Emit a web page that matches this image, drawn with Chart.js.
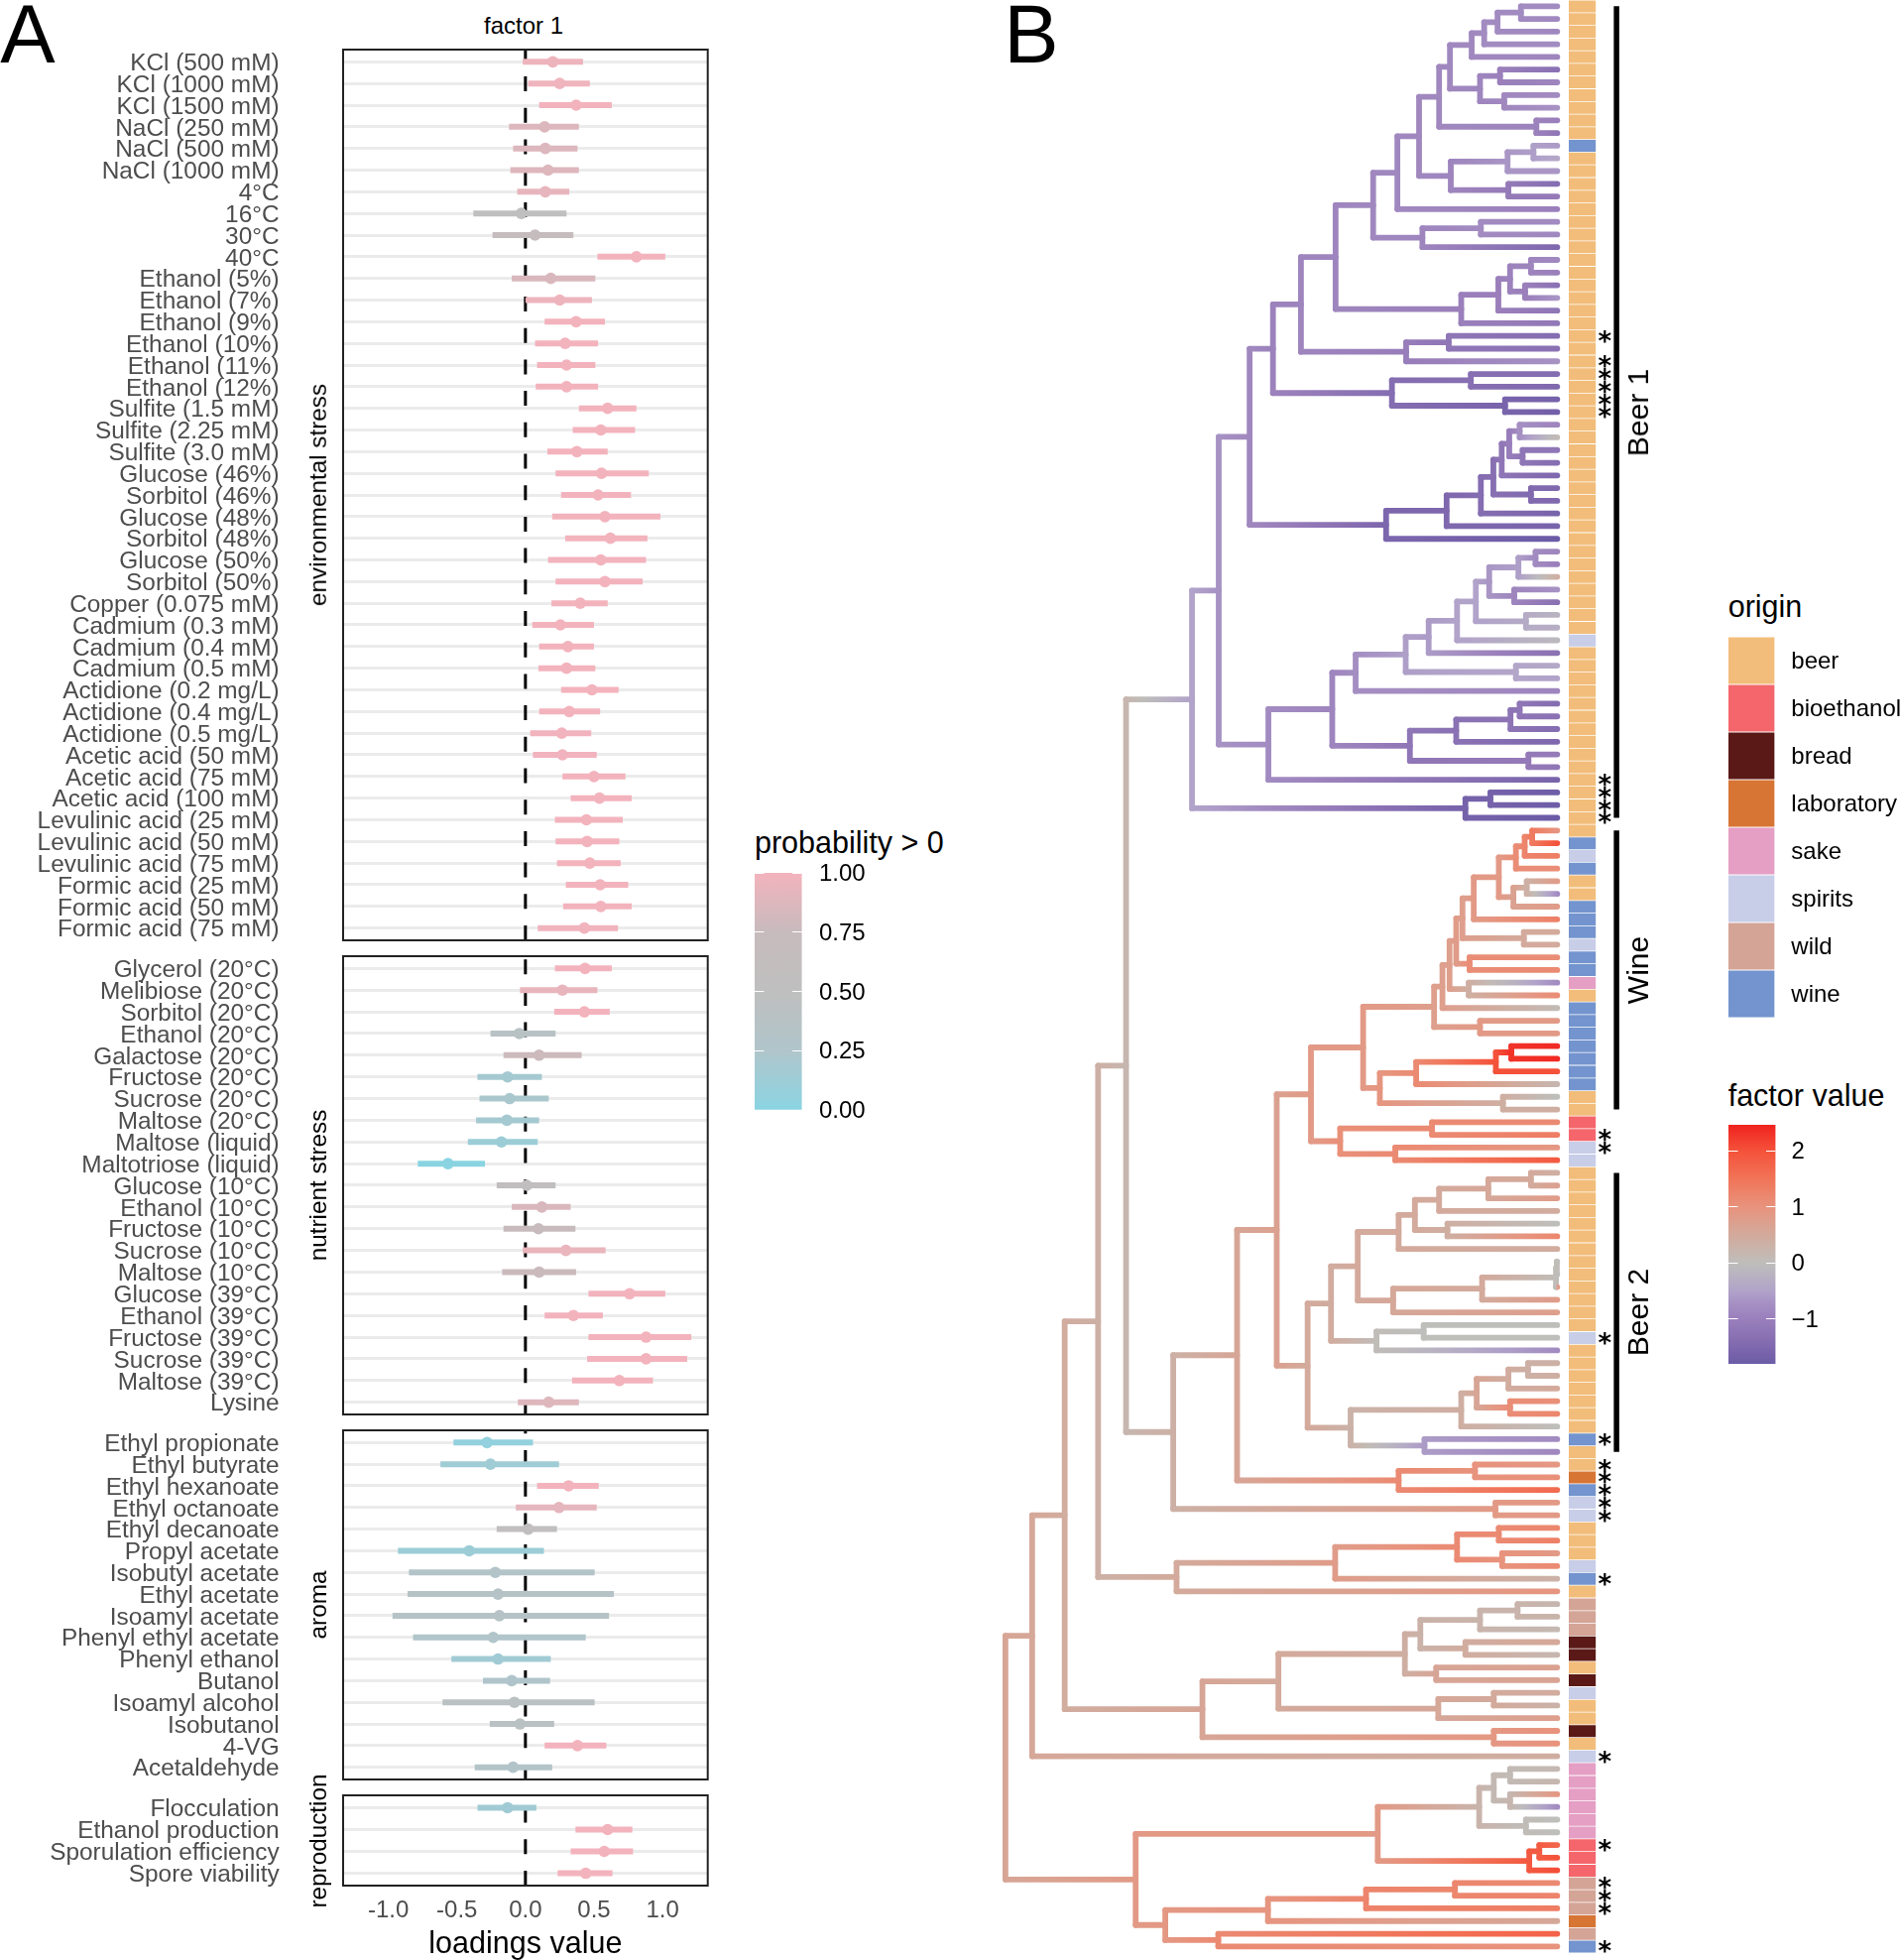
<!DOCTYPE html>
<html>
<head>
<meta charset="utf-8">
<title>factor 1 loadings and tree</title>
<script src="https://cdn.jsdelivr.net/npm/chart.js@4/dist/chart.umd.js"></script>
<style>
    body { margin: 0; background: #fff; }
    #page { position: relative; width: 1917px; height: 1976px; overflow: hidden; font-family: "Liberation Sans", Arial, sans-serif; }
    canvas { position: absolute; }
    .label { position: absolute; white-space: nowrap; color: #000; line-height: 1; }
</style>
</head>
<body>
<div id="page"></div>
<script>
// panel A, one block per facet: label, low, middle, high, probability > 0
const stressLabels = ["KCl (500 mM)", "KCl (1000 mM)", "KCl (1500 mM)", "NaCl (250 mM)", "NaCl (500 mM)", "NaCl (1000 mM)", "4°C", "16°C", "30°C", "40°C", "Ethanol (5%)", "Ethanol (7%)", "Ethanol (9%)", "Ethanol (10%)", "Ethanol (11%)", "Ethanol (12%)", "Sulfite (1.5 mM)", "Sulfite (2.25 mM)", "Sulfite (3.0 mM)", "Glucose (46%)", "Sorbitol (46%)", "Glucose (48%)", "Sorbitol (48%)", "Glucose (50%)", "Sorbitol (50%)", "Copper (0.075 mM)", "Cadmium (0.3 mM)", "Cadmium (0.4 mM)", "Cadmium (0.5 mM)", "Actidione (0.2 mg/L)", "Actidione (0.4 mg/L)", "Actidione (0.5 mg/L)", "Acetic acid (50 mM)", "Acetic acid (75 mM)", "Acetic acid (100 mM)", "Levulinic acid (25 mM)", "Levulinic acid (50 mM)", "Levulinic acid (75 mM)", "Formic acid (25 mM)", "Formic acid (50 mM)", "Formic acid (75 mM)"];
const stressLow = [-0.02, 0.02, 0.10, -0.12, -0.09, -0.11, -0.06, -0.38, -0.24, 0.525, -0.10, 0.0, 0.14, 0.07, 0.085, 0.075, 0.39, 0.345, 0.16, 0.22, 0.26, 0.195, 0.29, 0.165, 0.22, 0.19, 0.05, 0.10, 0.095, 0.26, 0.10, 0.035, 0.055, 0.27, 0.33, 0.215, 0.22, 0.23, 0.295, 0.275, 0.09];
const stressMid = [0.20, 0.25, 0.37, 0.14, 0.145, 0.165, 0.145, -0.03, 0.07, 0.81, 0.185, 0.25, 0.37, 0.29, 0.30, 0.30, 0.60, 0.55, 0.375, 0.555, 0.53, 0.58, 0.62, 0.55, 0.58, 0.40, 0.255, 0.31, 0.30, 0.485, 0.32, 0.265, 0.27, 0.50, 0.54, 0.445, 0.45, 0.47, 0.545, 0.55, 0.43];
const stressHigh = [0.42, 0.47, 0.63, 0.39, 0.38, 0.39, 0.32, 0.30, 0.35, 1.02, 0.51, 0.485, 0.58, 0.53, 0.51, 0.53, 0.81, 0.80, 0.60, 0.90, 0.77, 0.985, 0.89, 0.88, 0.855, 0.60, 0.50, 0.50, 0.51, 0.68, 0.545, 0.48, 0.52, 0.73, 0.775, 0.71, 0.685, 0.695, 0.75, 0.775, 0.675];
const stressProb = [0.97, 0.98, 1, 0.87, 0.87, 0.88, 0.93, 0.5, 0.68, 1, 0.85, 0.97, 1, 1, 1, 1, 1, 1, 1, 1, 1, 1, 1, 1, 1, 1, 1, 1, 1, 1, 1, 0.99, 0.99, 1, 1, 1, 1, 1, 1, 1, 0.99];

const nutrientLabels = ["Glycerol (20°C)", "Melibiose (20°C)", "Sorbitol (20°C)", "Ethanol (20°C)", "Galactose (20°C)", "Fructose (20°C)", "Sucrose (20°C)", "Maltose (20°C)", "Maltose (liquid)", "Maltotriose (liquid)", "Glucose (10°C)", "Ethanol (10°C)", "Fructose (10°C)", "Sucrose (10°C)", "Maltose (10°C)", "Glucose (39°C)", "Ethanol (39°C)", "Fructose (39°C)", "Sucrose (39°C)", "Maltose (39°C)", "Lysine"];
const nutrientLow = [0.215, -0.04, 0.21, -0.255, -0.16, -0.35, -0.335, -0.36, -0.42, -0.785, -0.21, -0.10, -0.16, -0.02, -0.17, 0.46, 0.14, 0.46, 0.45, 0.34, -0.055];
const nutrientMid = [0.435, 0.27, 0.43, -0.045, 0.10, -0.13, -0.115, -0.135, -0.175, -0.565, 0.01, 0.12, 0.095, 0.295, 0.10, 0.76, 0.35, 0.88, 0.88, 0.685, 0.17];
const nutrientHigh = [0.63, 0.525, 0.615, 0.22, 0.41, 0.12, 0.17, 0.10, 0.09, -0.295, 0.22, 0.33, 0.365, 0.585, 0.37, 1.02, 0.565, 1.21, 1.18, 0.93, 0.39];
const nutrientProb = [1, 0.94, 1, 0.38, 0.78, 0.18, 0.22, 0.18, 0.12, 0, 0.55, 0.85, 0.75, 0.95, 0.77, 1, 1, 1, 1, 1, 0.88];

const aromaLabels = ["Ethyl propionate", "Ethyl butyrate", "Ethyl hexanoate", "Ethyl octanoate", "Ethyl decanoate", "Propyl acetate", "Isobutyl acetate", "Ethyl acetate", "Isoamyl acetate", "Phenyl ethyl acetate", "Phenyl ethanol", "Butanol", "Isoamyl alcohol", "Isobutanol", "4-VG", "Acetaldehyde"];
const aromaLow = [-0.525, -0.62, 0.085, -0.07, -0.21, -0.93, -0.85, -0.86, -0.97, -0.82, -0.54, -0.31, -0.605, -0.26, 0.14, -0.37];
const aromaMid = [-0.28, -0.255, 0.315, 0.245, 0.02, -0.41, -0.22, -0.20, -0.19, -0.235, -0.20, -0.10, -0.08, -0.04, 0.38, -0.09];
const aromaHigh = [0.055, 0.245, 0.535, 0.52, 0.23, 0.135, 0.505, 0.645, 0.61, 0.44, 0.185, 0.18, 0.505, 0.21, 0.59, 0.195];
const aromaProb = [0.05, 0.14, 1, 0.92, 0.55, 0.12, 0.3, 0.33, 0.35, 0.27, 0.15, 0.25, 0.42, 0.42, 1, 0.3];

const reproLabels = ["Flocculation", "Ethanol production", "Sporulation efficiency", "Spore viability"];
const reproLow = [-0.35, 0.365, 0.33, 0.235];
const reproMid = [-0.13, 0.60, 0.575, 0.44];
const reproHigh = [0.08, 0.78, 0.785, 0.635];
const reproProb = [0.15, 1, 1, 1];

const loadingTicks = [-1, -0.5, 0, 0.5, 1];

// colour ramps of the two legends
const probBreaks = [0, 0.25, 0.5, 0.75, 1];
const probColors = ['#8AD4E2', '#B0C5CB', '#BFBFBF', '#C7BBBD', '#F3B3BD'];
const factorBreaks = [-1.8, -1.5, -1, -0.75, -0.5, 0, 0.5, 1, 1.5, 2, 2.46];
const factorColors = ['#6B5BA6', '#7F68AE', '#9A7FBB', '#A48EC2', '#B1A3CA', '#BEBEBB', '#D3AA9C', '#E8937D', '#F17458', '#F4523A', '#F0231F'];
const factorTicks = [-1, 0, 1, 2];

const originNames = ["beer", "bioethanol", "bread", "laboratory", "sake", "spirits", "wild", "wine"];
const originColors = ['#F2BD7A', '#F4666B', '#5A1916', '#D77535', '#E59EC4', '#C8CDE8', '#D4A496', '#7394CE'];

// panel B, one letter per tip, top to bottom
const originCodes = { b: 0, e: 1, d: 2, l: 3, s: 4, p: 5, w: 6, v: 7 };
const tipOrigins = ("bbbbbbbbbb" + "bvbbbbbbbb" + "bbbbbbbbbb" + "bbbbbbbbbb" + "bbbbbbbbbb" + "pbbbbbbbbb" + "bbbbbbvpvb" + "bvvvpvvsbv" + "vvvvvvbbee" + "ppbbbbbbbb" + "bbbbbpbbbb" + "bbbvbblvpp" + "bbbpvbwwwd" + "dbdpbbdbps" + "ssssseeeww" + "wlwv").split('');
const starTips = [26, 28, 29, 30, 31, 32, 61, 62, 63, 64, 89, 90, 105, 113, 115, 116, 117, 118, 119, 124, 138, 145, 148, 149, 150, 153];
const tipValues = [
    -0.8, -0.85, -0.85, -0.8, -0.9, -1.3, -0.9, -0.8, -0.7, -1.0, -1.2, -0.6, -0.4, -0.65, -1.4, -1.1, -1.0, -0.8, -0.85, -1.5,
    -0.85, -1.0, -1.3, -0.65, -1.2, -1.15, -1.4, -1.3, -0.7, -1.4, -1.5, -1.65, -1.7, -0.9, 0.1, -1.2, -1.4, -1.5, -1.5, -1.5,
    -1.6, -1.6, -1.8, -0.9, -1.0, 0.4, -0.7, -1.3, -0.2, -0.3, -0.1, -1.3, -0.4, -0.5, -0.9, -1.4, -1.3, -1.4, -1.5, -1.1,
    -1.2, -1.6, -1.75, -1.75, -1.8, 0.95, 2.0, 1.35, 1.1, 0.8, -0.8, 0.8, 1.3, 0.5, 0.5, 1.1, 1.15, -0.8, 1.1, 0.1,
    0.85, 0.85, 2.4, 2.4, 2.0, 0.2, 0, 0.4, 1.15, 1.35, 0.9, 1.9, 0.4, 0.7, 0.8, 0.45, 0, 1.2, 0.45, 0,
    0, 0.8, 0.8, 0.75, 0, 0, -0.8, 0.35, 0.4, 0.5, 1.05, 1.2, 0, -0.8, -0.85, 0.9, 1.05, 1.65, 0.85, 0.85,
    1.2, 1.3, 0.85, 1.15, 0.3, 0.95, 0.2, 0.25, 0.15, 0.55, 0.2, 0.7, 0.65, 0.45, 0.3, 0.75, 1, 1, 0.4, 0.15,
    0.2, 0.9, -0.8, 0, 0, 1.7, 2, 2.05, 1.15, 1.25, 1.35, 0.55, 1.75, 1
];
const tipDepth = 1355;

// tree nodes: [depth, factor value, child, child], a bare number is a tip index
const cladeTop = [824, -0.9,
    [914, -0.85,
        [972, -0.85,
            [1024, -0.85,
                [1072, -0.85,
                    [1098, -0.85,
                        [1150, -0.85, [1180, -0.8, [1212, -0.8, [1268, -0.8, 0, 1], 2], 3], 4],
                        [1170, -0.9, [1218, -1.0, 5, 6], [1228, -0.85, 7, 8]]],
                    [1305, -0.95, 9, 10]],
                [1100, -0.9, [1236, -0.65, [1298, -0.55, 11, 12], 13], [1238, -1.1, 14, 15]]],
            16],
        [1032, -0.9, [1172, -0.8, 17, 18], 19]],
    [1125, -1, [1214, -1, [1242, -0.95, [1292, -0.9, 20, 21], [1278, -1, 22, 23]], 24], 25]];
const cladeUpper = [674, -0.95,
    [741, -0.9, cladeTop, [993, -1.05, [1095, -1.2, 26, 27], 28]],
    [959, -1.4, [1148, -1.35, 29, 30], [1230, -1.6, 31, 32]]];
const cladeDark = [945, -1.55, [1090, -1.5, [1172, -1.4, [1202, -1.35, [1222, -1.2, [1240, -1.05, [1265, -0.75, 33, 34], [1272, -1.2, 35, 36]], 37], [1292, -1.45, 38, 39]], 40], 41], 42];
const cladeLight = [663, -0.8,
    [816, -0.9,
        [872, -0.75, [992, -0.55, [1047, -0.6, [1115, -0.5, [1160, -0.5, [1192, -0.65, [1262, -0.55, [1303, -0.8, 43, 44], 45], [1252, -0.9, 46, 47]], [1280, -0.35, 48, 49]], 50], 51], [1256, -0.45, 52, 53]], 54],
        [1002, -1.2, [1113, -1.3, [1243, -1.25, [1265, -1.2, 55, 56], 57], 58], [1286, -1.1, 59, 60]]],
    61];
const cladeBeer1 = [480, -0.5, [544, -0.7, [618, -0.85, cladeUpper, cladeDark], cladeLight], [1135, -1.65, [1195, -1.65, 62, 63], 64]];
const cladeWine = [765, 0.85,
    [890, 0.85,
        [1060, 0.75, [1080, 0.75, [1097, 0.75, [1113, 0.8, [1128, 0.75, [1155, 0.85, [1215, 0.85, [1256, 1.1, [1277, 1.25, [1295, 1.4, 65, 66], 67], 68], [1250, 0.7, [1282, 0.35, 69, 70], 71]], 72], [1275, 0.5, 73, 74]], [1145, 1.1, 75, 76]], [1143, 0.4, 77, 78]], 79], [1170, 0.85, 80, 81]],
        [930, 0.95, [1017, 1.15, [1208, 2.0, [1245, 2.3, 82, 83], 84], 85], [1225, 0.4, 86, 87]]],
    [835, 1.05, [1055, 1.15, 88, 89], [967, 1.15, 90, 91]]];
const cladeBeer2 = [757, 0.5,
    [813, 0.45,
        [877, 0.5,
            [975, 0.5, [1014, 0.5, [1072, 0.5, [1190, 0.55, [1292, 0.5, 92, 93], 94], 95], [1092, 0.4, 96, 97]], 98],
            [962, 0.55, [1175, 0.5, [1352, 0.05, [1354, 0.05, 99, 100], 101], 102], 103]],
        [922, 0.05, [1035, 0, 104, 105], 106]],
    [860, 0.3,
        [1125, 0.4, [1162, 0.6, [1238, 0.45, [1285, 0.35, 107, 108], 109], [1242, 1.1, 110, 111]], 112],
        [1037, -0.6, 113, 114]]];
const cladeMiddle = [322, 0.2, cladeBeer1,
    [435, 0.35, [588, 0.6, [683, 0.7, cladeWine, cladeBeer2], [975, 1.15, [1158, 1.0, 115, 116], 117]], [1207, 0.85, 118, 119]]];
const cladeLower = [255, 0.35, cladeMiddle,
    [443, 0.5, [823, 0.8, [1115, 1.15, [1215, 1.15, 120, 121], [1223, 1.0, 122, 123]], 124], 125]];
const cladeBread = [505, 0.6,
    [687, 0.5,
        [990, 0.4, [1027, 0.3, [1170, 0.25, [1260, 0.25, 126, 127], 128], [1135, 0.45, 129, 130]], [1065, 0.6, 131, 132]],
        [1070, 0.55, [1203, 0.5, 133, 134], 135]],
    [1203, 0.9, 136, 137]];
const cladeSake = [345, 0.85,
    [925, 0.85,
        [1168, 0.25, [1203, 0.15, [1242, 0.1, 139, 140], [1242, 0.2, 141, 142]], [1280, 0.05, 143, 144]],
        [1288, 1.9, [1312, 1.85, 145, 146], 147]],
    [416, 0.9, [662, 0.95, [897, 1.25, [1110, 1.2, 148, 149], 150], 151], [543, 1.15, 152, 153]]];
const treeRoot = [33, 0.6, [97, 0.55, [175, 0.45, cladeLower, cladeBread], 138], cladeSake];

const cladeNames = ["Beer 1", "Wine", "Beer 2"];
const cladeFirstTip = [0, 65, 92];
const cladeLastTip = [64, 87, 114];

Chart.defaults.font.family = '"Liberation Sans", Arial, sans-serif';
Chart.defaults.animation = false;
Chart.defaults.events = [];
Chart.defaults.plugins.legend.display = false;
Chart.defaults.plugins.tooltip.enabled = false;

const page = document.getElementById('page');

function addCanvas(left, top, width, height) {
    const canvas = document.createElement('canvas');
    canvas.width = width;
    canvas.height = height;
    canvas.style.left = left + 'px';
    canvas.style.top = top + 'px';
    canvas.style.width = width + 'px';
    canvas.style.height = height + 'px';
    page.appendChild(canvas);
    return canvas;
}

function addLabel(text, x, y, size, rotate, leftAnchored) {
    const label = document.createElement('div');
    label.className = 'label';
    label.textContent = text;
    label.style.left = x + 'px';
    label.style.top = y + 'px';
    label.style.fontSize = size + 'px';
    label.style.transform = 'translate(' + (leftAnchored ? '0' : '-50%') + ',-50%) rotate(' + (rotate || 0) + 'deg)';
    page.appendChild(label);
}

function colorAt(breaks, colors, value) {
    let i = 0;
    while (i < breaks.length - 2 && value > breaks[i + 1]) i++;
    const t = Math.min(1, Math.max(0, (value - breaks[i]) / (breaks[i + 1] - breaks[i])));
    const rgb = [1, 3, 5].map(p => {
        const a = parseInt(colors[i].substr(p, 2), 16);
        const b = parseInt(colors[i + 1].substr(p, 2), 16);
        return Math.round(a + (b - a) * t);
    });
    return 'rgb(' + rgb.join(',') + ')';
}

// the axis labels may hang past the plot area, chart.js would shrink it otherwise
function noLabelPadding(axis) {
    axis.paddingTop = 0;
    axis.paddingBottom = 0;
    axis.paddingLeft = 0;
    axis.paddingRight = 0;
}

const panelFrame = {
    id: 'panelFrame',
    afterDatasetsDraw(chart) {
        const { ctx, chartArea } = chart;
        ctx.save();
        ctx.strokeStyle = '#222';
        ctx.lineWidth = 2;
        ctx.strokeRect(chartArea.left, chartArea.top, chartArea.right - chartArea.left, chartArea.bottom - chartArea.top);
        ctx.restore();
    }
};

function forestPanel(labels, low, mid, high, prob, top, bottom, withAxis) {
    const pad = 6;
    const axisHeight = 1979 - bottom;
    const canvasHeight = withAxis ? bottom + axisHeight - top + pad : bottom - top + 2 * pad;
    const canvas = addCanvas(0, top - pad, 720, Math.round(canvasHeight));
    const yMin = -0.565;
    const yMax = labels.length - 1 + 0.565;
    const datasets = [{
        data: [{ x: 0, y: yMax }, { x: 0, y: yMin }],
        showLine: true,
        borderColor: '#000',
        borderWidth: 3,
        borderDash: [15, 16.7],
        pointRadius: 0,
        order: 3
    }];
    labels.forEach((name, i) => {
        datasets.push({
            data: [{ x: low[i], y: i }, { x: high[i], y: i }],
            showLine: true,
            borderColor: colorAt(probBreaks, probColors, prob[i]),
            borderWidth: 6,
            pointRadius: 0,
            order: 2
        });
    });
    datasets.push({
        data: labels.map((name, i) => ({ x: mid[i], y: i })),
        pointRadius: 5.8,
        pointBorderWidth: 0,
        pointBackgroundColor: prob.map(p => colorAt(probBreaks, probColors, p)),
        order: 1
    });
    return new Chart(canvas, {
        type: 'scatter',
        data: { datasets },
        plugins: [panelFrame],
        options: {
            responsive: false,
            layout: { padding: { top: pad, right: 6.3, bottom: withAxis ? 0 : pad, left: 0 } },
            scales: {
                x: {
                    type: 'linear',
                    display: withAxis,
                    min: -1.33,
                    max: 1.33,
                    afterBuildTicks: axis => { axis.ticks = loadingTicks.map(value => ({ value })); },
                    afterFit: axis => { axis.height = withAxis ? axisHeight : 0; noLabelPadding(axis); },
                    grid: { display: false },
                    border: { display: false },
                    ticks: { color: '#4D4D4D', font: { size: 24 }, padding: 3, maxRotation: 0, callback: v => v.toFixed(1) },
                    title: { display: withAxis, text: 'loadings value', color: '#000', font: { size: 30.5 }, padding: 0 }
                },
                y: {
                    type: 'linear',
                    reverse: true,
                    min: yMin,
                    max: yMax,
                    afterBuildTicks: axis => { axis.ticks = labels.map((name, i) => ({ value: i })); },
                    afterFit: axis => { axis.width = 346; noLabelPadding(axis); },
                    grid: { color: '#EBEBEB', lineWidth: 3, drawTicks: false },
                    border: { display: false },
                    ticks: { color: '#4D4D4D', font: { size: 24.4 }, padding: 64.4, labelOffset: 2, autoSkip: false, callback: v => labels[v] }
                }
            }
        }
    });
}

// walks the nested nodes and collects one dataset per branch
function treeDatasets(root) {
    const datasets = [];
    function branchColor(fromX, toX, fromValue, toValue) {
        return ctx => {
            const chart = ctx.chart;
            if (!chart.chartArea) return colorAt(factorBreaks, factorColors, toValue);
            const gradient = chart.ctx.createLinearGradient(chart.scales.x.getPixelForValue(fromX), 0, chart.scales.x.getPixelForValue(toX), 0);
            for (let s = 0; s <= 4; s++) {
                gradient.addColorStop(s / 4, colorAt(factorBreaks, factorColors, fromValue + (toValue - fromValue) * s / 4));
            }
            return gradient;
        };
    }
    function line(points, color) {
        datasets.push({
            data: points,
            showLine: true,
            borderColor: color,
            borderWidth: 5.8,
            borderCapStyle: 'round',
            pointRadius: 0,
            clip: false
        });
    }
    function walk(node, parentX, parentValue) {
        const isTip = typeof node === 'number';
        const x = isTip ? tipDepth : node[0];
        const value = isTip ? tipValues[node] : node[1];
        let y = node;
        if (!isTip) {
            const ya = walk(node[2], x, value);
            const yb = walk(node[3], x, value);
            y = (ya + yb) / 2;
            line([{ x, y: ya }, { x, y: yb }], colorAt(factorBreaks, factorColors, value));
        }
        if (parentX !== null) {
            line([{ x: parentX, y }, { x, y }], branchColor(parentX, x, parentValue, value));
        }
        return y;
    }
    walk(root, null, null);
    return datasets;
}

function drawTree() {
    const canvas = addCanvas(1000, 0, 660, 1976);
    const datasets = treeDatasets(treeRoot);
    cladeNames.forEach((name, i) => {
        datasets.push({
            data: [{ x: 1497, y: cladeFirstTip[i] }, { x: 1497, y: cladeLastTip[i] }],
            showLine: true,
            borderColor: '#000',
            borderWidth: 5.5,
            pointRadius: 0
        });
    });
    return new Chart(canvas, {
        type: 'scatter',
        data: { datasets },
        options: {
            responsive: false,
            scales: {
                x: { type: 'linear', display: false, min: 0, max: 1568 },
                y: { type: 'linear', display: false, reverse: true, min: -0.493, max: 154.07 }
            }
        }
    });
}

function tileChart(labels, colors, left, top, barWidth, height, totalWidth, tickOptions, barPercentage) {
    const canvas = addCanvas(left, top, totalWidth, height);
    return new Chart(canvas, {
        type: 'bar',
        data: {
            labels,
            datasets: [{ data: labels.map(() => 1), backgroundColor: colors, barPercentage, categoryPercentage: 1 }]
        },
        options: {
            responsive: false,
            indexAxis: 'y',
            scales: {
                x: { display: false, min: 0, max: 1 },
                y: {
                    position: 'right',
                    afterFit: axis => { axis.width = totalWidth - barWidth; noLabelPadding(axis); },
                    grid: { display: false, drawTicks: false },
                    border: { display: false },
                    ticks: Object.assign({ autoSkip: false, color: '#000' }, tickOptions)
                }
            }
        }
    });
}

function colorBar(left, top, width, height, min, max, ticks, breaks, colors, format, labelPadding) {
    const pad = 16;
    const canvas = addCanvas(left, top - pad, 130, Math.round(height + 2 * pad));
    return new Chart(canvas, {
        type: 'bar',
        data: {
            labels: [''],
            datasets: [{
                data: [[min, max]],
                barPercentage: 1,
                categoryPercentage: 1,
                backgroundColor: ctx => {
                    const chart = ctx.chart;
                    if (!chart.chartArea) return colors[0];
                    const gradient = chart.ctx.createLinearGradient(0, chart.scales.y.getPixelForValue(min), 0, chart.scales.y.getPixelForValue(max));
                    const steps = 40;
                    for (let s = 0; s <= steps; s++) {
                        gradient.addColorStop(s / steps, colorAt(breaks, colors, min + (max - min) * s / steps));
                    }
                    return gradient;
                }
            }]
        },
        options: {
            responsive: false,
            layout: { padding: { top: pad, bottom: pad } },
            scales: {
                x: { display: false },
                y: {
                    position: 'right',
                    min,
                    max,
                    afterBuildTicks: axis => { axis.ticks = ticks.map(value => ({ value })); },
                    afterFit: axis => { axis.width = 130 - width; noLabelPadding(axis); },
                    grid: { color: '#fff', lineWidth: 1, z: 1, drawTicks: false },
                    border: { display: false, dash: [9.5, width - 19, 9.5] },
                    ticks: { color: '#000', font: { size: 24 }, padding: labelPadding, labelOffset: 1.5, autoSkip: false, callback: format }
                }
            }
        }
    });
}

// panel A
addLabel('A', 28, 34, 83);
addLabel('factor 1', 528, 26, 24);
forestPanel(stressLabels, stressLow, stressMid, stressHigh, stressProb, 50, 947.7, false);
forestPanel(nutrientLabels, nutrientLow, nutrientMid, nutrientHigh, nutrientProb, 964, 1425.7, false);
forestPanel(aromaLabels, aromaLow, aromaMid, aromaHigh, aromaProb, 1442, 1794, false);
forestPanel(reproLabels, reproLow, reproMid, reproHigh, reproProb, 1810, 1901, true);
addLabel('environmental stress', 321, 499, 24.3, -90);
addLabel('nutrient stress', 321, 1195, 24.3, -90);
addLabel('aroma', 321, 1618, 24.3, -90);
addLabel('reproduction', 321, 1856, 24.3, -90);

// probability legend
addLabel('probability > 0', 761, 849, 30.5, 0, true);
colorBar(760.7, 880, 47.6, 238.7, 0, 1, probBreaks, probBreaks, probColors, v => v.toFixed(2), 17.4);

// panel B
addLabel('B', 1040, 34, 83);
drawTree();
tileChart(tipOrigins.map((c, i) => i), tipOrigins.map(c => originColors[originCodes[c]]), 1581.6, 0, 27.4, 1969, 60, {
    font: { size: 26, family: '"DejaVu Sans"', weight: 'bold' },
    padding: 2,
    labelOffset: 7,
    callback: v => (starTips.includes(v) ? '*' : '')
}, 0.94);
addLabel('Beer 1', 1652, 416, 30, -90);
addLabel('Wine', 1652, 978, 30, -90);
addLabel('Beer 2', 1652, 1323, 30, -90);

// origin and factor legends
addLabel('origin', 1742.7, 611, 30.5, 0, true);
tileChart(originNames, originColors, 1742.7, 641.5, 46.6, 384, 174, { font: { size: 24 }, padding: 16.7, labelOffset: 1.5 }, 0.98);
addLabel('factor value', 1742.7, 1104, 30.5, 0, true);
colorBar(1742.5, 1133.8, 47.5, 240.9, -1.798, 2.464, factorTicks, factorBreaks, factorColors, v => (v < 0 ? '\u2212' + Math.abs(v) : String(v)), 16);
</script>
</body>
</html>
